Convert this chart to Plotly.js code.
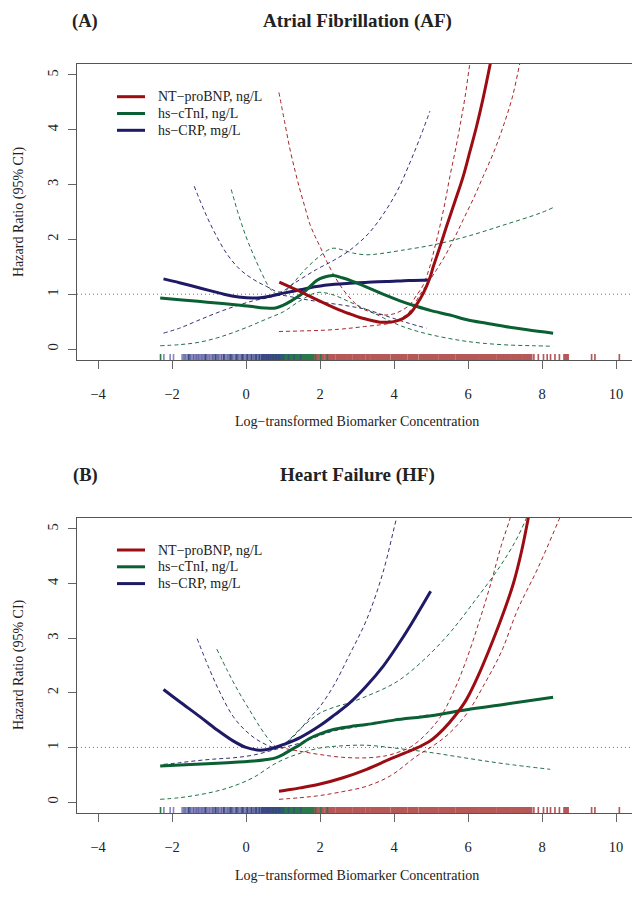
<!DOCTYPE html>
<html><head><meta charset="utf-8">
<script src="https://cdn.plot.ly/plotly-3.0.1.min.js"></script>
<style>html,body{margin:0;padding:0;background:#fff;overflow:hidden}#chart{width:632px;height:901px;}</style>
</head><body><div id="chart"></div>
<script>
// ---------- Panel A: Atrial Fibrillation ----------
const afBnpX  = [0.9, 1.2, 1.46, 1.7, 1.91, 2.2, 2.5, 2.81, 3.1, 3.4, 3.62, 3.85, 4.05, 4.25, 4.45, 4.61, 4.8, 4.97, 5.06, 5.24, 5.42, 5.65, 5.87, 6.05, 6.23, 6.4, 6.6, 6.7];
const afBnpY  = [1.22, 1.13, 1.05, 0.97, 0.9, 0.81, 0.72, 0.64, 0.57, 0.52, 0.49, 0.49, 0.51, 0.56, 0.66, 0.81, 1.03, 1.3, 1.5, 1.86, 2.24, 2.7, 3.15, 3.6, 4.06, 4.55, 5.2, 5.55];
const afBnpUX = [0.89, 1.05, 1.19, 1.33, 1.46, 1.6, 1.73, 1.87, 2.0, 2.18, 2.4, 2.63, 2.85, 3.08, 3.3, 3.53, 3.75, 3.98, 4.2, 4.43, 4.6, 4.79, 4.97, 5.1, 5.24, 5.38, 5.51, 5.65, 5.78, 5.92, 6.05, 6.15];
const afBnpU  = [4.68, 4.12, 3.64, 3.24, 2.9, 2.57, 2.27, 2.05, 1.87, 1.6, 1.32, 1.08, 0.9, 0.76, 0.69, 0.64, 0.62, 0.64, 0.7, 0.81, 0.97, 1.17, 1.51, 1.85, 2.24, 2.68, 3.15, 3.6, 4.06, 4.6, 5.21, 5.6];
const afBnpLX = [0.89, 1.5, 2.0, 2.5, 2.81, 3.2, 3.6, 3.89, 4.1, 4.34, 4.5, 4.7, 4.97, 5.2, 5.42, 5.65, 5.87, 6.15, 6.41, 6.7, 6.95, 7.2, 7.4, 7.5];
const afBnpL  = [0.32, 0.33, 0.34, 0.36, 0.38, 0.41, 0.44, 0.47, 0.53, 0.63, 0.76, 0.99, 1.26, 1.5, 1.75, 2.05, 2.36, 2.75, 3.15, 3.6, 4.06, 4.6, 5.21, 5.5];

const afTnX  = [-2.32, -1.8, -1.3, -0.8, -0.3, 0.11, 0.5, 0.8, 1.01, 1.2, 1.46, 1.7, 1.91, 2.1, 2.36, 2.6, 2.9, 3.26, 3.7, 4.16, 4.6, 5.0, 5.51, 6.0, 6.5, 7.0, 7.6, 8.3];
const afTnY  = [0.93, 0.9, 0.87, 0.84, 0.81, 0.78, 0.75, 0.75, 0.8, 0.87, 0.98, 1.12, 1.25, 1.31, 1.34, 1.3, 1.23, 1.13, 1.0, 0.88, 0.78, 0.7, 0.62, 0.53, 0.47, 0.41, 0.35, 0.29];
const afTnUX = [-0.4, -0.2, 0.0, 0.2, 0.4, 0.65, 0.8, 0.95, 1.1, 1.3, 1.5, 1.73, 2.0, 2.2, 2.36, 2.6, 2.9, 3.26, 3.62, 4.2, 5.06, 6.0, 7.0, 7.95, 8.3];
const afTnU  = [2.91, 2.45, 2.05, 1.72, 1.42, 1.1, 1.01, 1.0, 1.08, 1.22, 1.38, 1.54, 1.7, 1.8, 1.84, 1.81, 1.75, 1.72, 1.74, 1.8, 1.9, 2.06, 2.27, 2.48, 2.58];
const afTnLX = [-2.32, -1.8, -1.3, -0.8, -0.35, 0.11, 0.56, 1.01, 1.46, 1.91, 2.3, 2.8, 3.26, 3.71, 4.16, 4.6, 5.0, 5.51, 5.96, 6.5, 7.2, 7.8, 8.3];
const afTnL  = [0.06, 0.08, 0.12, 0.2, 0.3, 0.42, 0.55, 0.68, 0.88, 1.03, 1.0, 0.86, 0.72, 0.57, 0.43, 0.33, 0.26, 0.19, 0.14, 0.1, 0.07, 0.06, 0.05];

const afCrpX  = [-2.23, -1.8, -1.4, -1.0, -0.6, -0.2, 0.2, 0.6, 1.01, 1.46, 1.91, 2.4, 2.81, 3.3, 3.8, 4.4, 4.97];
const afCrpY  = [1.28, 1.21, 1.14, 1.07, 1.0, 0.95, 0.93, 0.96, 1.02, 1.08, 1.14, 1.18, 1.2, 1.22, 1.23, 1.25, 1.26];
const afCrpUX = [-1.4, -1.1, -0.79, -0.5, -0.16, 0.2, 0.56, 0.92, 1.3, 1.9, 2.4, 2.8, 3.3, 3.7, 4.1, 4.43, 4.7, 4.97];
const afCrpU  = [2.97, 2.48, 2.05, 1.72, 1.45, 1.27, 1.14, 1.04, 1.2, 1.45, 1.63, 1.8, 2.1, 2.45, 2.9, 3.4, 3.85, 4.34];
const afCrpLX = [-2.23, -1.8, -1.3, -0.79, -0.3, 0.2, 0.56, 0.92, 1.46, 2.0, 2.81, 3.26, 3.8, 4.4, 4.88];
const afCrpL  = [0.29, 0.38, 0.52, 0.66, 0.78, 0.88, 0.93, 0.98, 0.92, 0.86, 0.78, 0.72, 0.6, 0.47, 0.38];

// ---------- Panel B: Heart Failure ----------
const hfBnpX  = [0.89, 1.2, 1.46, 2.0, 2.6, 3.26, 3.9, 4.3, 4.65, 5.0, 5.33, 5.65, 5.96, 6.3, 6.68, 6.95, 7.23, 7.45, 7.63, 7.75];
const hfBnpY  = [0.2, 0.23, 0.26, 0.33, 0.44, 0.6, 0.79, 0.9, 1.0, 1.13, 1.33, 1.58, 1.88, 2.35, 2.97, 3.45, 4.01, 4.6, 5.2, 5.6];
const hfBnpUX = [0.89, 1.46, 2.0, 2.6, 3.26, 3.8, 4.1, 4.43, 4.8, 5.1, 5.33, 5.65, 5.96, 6.3, 6.62, 6.9, 7.14, 7.25];
const hfBnpU  = [1.0, 0.93, 0.87, 0.82, 0.81, 0.85, 0.91, 1.0, 1.2, 1.42, 1.64, 2.08, 2.61, 3.3, 4.01, 4.7, 5.2, 5.5];
const hfBnpLX = [0.89, 1.46, 2.0, 2.6, 3.26, 3.9, 4.61, 5.1, 5.51, 6.0, 6.41, 6.9, 7.34, 7.9, 8.44, 8.6];
const hfBnpL  = [0.05, 0.08, 0.12, 0.19, 0.29, 0.48, 0.84, 1.05, 1.27, 1.65, 2.12, 2.75, 3.52, 4.3, 5.14, 5.4];

const hfTnX  = [-2.32, -1.5, -0.5, 0.2, 0.56, 0.8, 1.0, 1.2, 1.46, 1.7, 2.0, 2.36, 2.8, 3.26, 4.0, 5.0, 5.96, 7.0, 8.3];
const hfTnY  = [0.66, 0.69, 0.72, 0.75, 0.78, 0.81, 0.87, 0.95, 1.05, 1.16, 1.25, 1.33, 1.38, 1.42, 1.5, 1.58, 1.69, 1.79, 1.92];
const hfTnUX = [-0.79, -0.5, -0.2, 0.1, 0.4, 0.65, 0.85, 1.1, 1.4, 1.7, 2.0, 2.4, 2.81, 3.3, 3.8, 4.16, 4.8, 5.51, 6.2, 6.86, 7.3, 7.58, 7.7];
const hfTnU  = [2.8, 2.4, 2.02, 1.68, 1.35, 1.12, 1.0, 1.1, 1.3, 1.48, 1.63, 1.74, 1.82, 1.95, 2.1, 2.24, 2.6, 3.1, 3.7, 4.31, 4.8, 5.2, 5.4];
const hfTnLX = [-2.32, -1.8, -1.3, -0.8, -0.35, 0.2, 0.83, 1.4, 2.0, 2.6, 3.26, 4.0, 5.06, 6.0, 7.0, 8.22];
const hfTnL  = [0.05, 0.08, 0.13, 0.2, 0.29, 0.45, 0.72, 0.88, 0.99, 1.03, 1.04, 0.99, 0.9, 0.8, 0.7, 0.6];

const hfCrpX  = [-2.23, -1.8, -1.24, -0.8, -0.35, 0.0, 0.38, 0.7, 1.0, 1.46, 2.0, 2.4, 2.81, 3.26, 3.71, 4.1, 4.43, 4.99];
const hfCrpY  = [2.06, 1.84, 1.56, 1.33, 1.12, 1.0, 0.95, 0.98, 1.05, 1.18, 1.4, 1.6, 1.82, 2.13, 2.49, 2.87, 3.22, 3.86];
const hfCrpUX = [-1.32, -1.0, -0.7, -0.35, 0.0, 0.4, 0.83, 1.2, 1.46, 1.8, 2.0, 2.36, 2.8, 3.26, 3.7, 4.07, 4.2];
const hfCrpU  = [2.99, 2.45, 2.0, 1.57, 1.3, 1.1, 1.0, 1.15, 1.33, 1.6, 1.75, 2.12, 2.7, 3.34, 4.2, 5.2, 5.5];
const hfCrpLX = [-2.23, -1.8, -1.3, -0.8, -0.35, 0.2, 0.83, 1.46, 2.0, 2.36, 3.0, 3.6, 4.16, 4.97];
const hfCrpL  = [0.69, 0.72, 0.76, 0.79, 0.81, 0.86, 0.97, 1.08, 1.22, 1.3, 1.38, 1.45, 1.51, 1.6];

// ---------- Rug (observed log concentrations) ----------
const rugBnp = [0.89, 0.93, 1.01, 1.07, 1.12, 1.2, 1.26, 1.33, 1.38, 1.47, 1.52, 1.6, 1.64, 1.71, 1.79, 1.83, 1.9, 1.97, 2.05, 2.09, 2.17, 2.24, 2.3, 2.36, 2.45, 2.5, 2.57, 2.66, 2.71, 2.78, 2.84, 2.93, 2.98, 3.05, 3.13, 3.18, 3.26, 3.31, 3.4, 3.46, 3.52, 3.6, 3.67, 3.72, 3.8, 3.86, 3.95, 4.0, 4.07, 4.15, 4.21, 4.28, 4.33, 4.42, 4.48, 4.55, 4.61, 4.7, 4.75, 4.82, 4.9, 4.96, 5.03, 5.1, 5.16, 5.24, 5.29, 5.37, 5.45, 5.5, 5.58, 5.63, 5.72, 5.78, 5.85, 5.91, 5.99, 6.05, 6.12, 6.2, 6.25, 6.33, 6.4, 6.46, 6.52, 6.6, 6.67, 6.73, 6.81, 6.86, 6.94, 7.0, 7.06, 7.13, 7.2, 7.24, 7.31, 7.38, 7.43, 7.5, 7.55, 7.6, 7.68, 7.78, 7.9, 8.04, 8.14, 8.23, 8.35, 8.47, 8.62, 8.68, 9.34, 9.43, 10.09];
const rugTn  = [-2.31, -1.55, -1.1, -0.82, -0.6, -0.41, -0.25, -0.1, 0.04, 0.15, 0.27, 0.36, 0.47, 0.55, 0.64, 0.72, 0.8, 0.86, 0.93, 0.98, 1.04, 1.09, 1.13, 1.19, 1.23, 1.28, 1.32, 1.37, 1.41, 1.46, 1.5, 1.55, 1.59, 1.64, 1.7, 1.78, 1.88, 2.02, 2.2];
const rugCrp = [-2.22, -2.05, -1.96, -1.71, -1.66, -1.63, -1.57, -1.52, -1.49, -1.44, -1.4, -1.35, -1.31, -1.27, -1.22, -1.18, -1.15, -1.1, -1.06, -1.01, -0.98, -0.93, -0.89, -0.85, -0.8, -0.76, -0.73, -0.68, -0.64, -0.59, -0.56, -0.51, -0.47, -0.43, -0.38, -0.35, -0.3, -0.26, -0.21, -0.18, -0.13, -0.09, -0.05, 0.0, 0.04, 0.09, 0.12, 0.17, 0.22, 0.26, 0.3, 0.35, 0.41, 0.46, 0.52, 0.58, 0.63, 0.7, 0.77, 0.85, 0.93, 1.02, 1.15, 1.3, 1.48];

const names = ['NT\u2212proBNP, ng/L', 'hs\u2212cTnI, ng/L', 'hs\u2212CRP, mg/L'];
const xTicks = [-4, -2, 0, 2, 4, 6, 8, 10];
const yTicks = [0, 1, 2, 3, 4, 5];

const RED = '#9C0D13', GREEN = '#0A5F33', NAVY = '#1E1A66';
const COLORS = [RED, GREEN, NAVY];
const FONT = 'Liberation Serif, Times New Roman, serif';

function ci(x, y, color, xa, ya) {
  return {x, y, xaxis: xa, yaxis: ya, mode: 'lines', type: 'scatter', showlegend: false, hoverinfo: 'skip',
    line: {color, width: 1, dash: '4px,3px', shape: 'spline', smoothing: 1}, opacity: 0.9};
}
function main(x, y, color, xa, ya, name) {
  return {x, y, xaxis: xa, yaxis: ya, mode: 'lines', type: 'scatter', name, showlegend: false,
    line: {color, width: 3, shape: 'spline', smoothing: 1}};
}
// rug: one thin bar per observation, from the bottom of the axis up a few pixels
const RUG_BASE = -0.2, RUG_H = 0.11;
function rug(vals, color, xa, ya) {
  const widths = vals.map((v, i) => {
    const d = Math.min(i > 0 ? v - vals[i - 1] : 9, i < vals.length - 1 ? vals[i + 1] - v : 9);
    return d < 0.085 ? d * 1.6 : 0.045;
  });
  return {type: 'bar', x: vals, y: vals.map(() => RUG_H), base: RUG_BASE, width: widths, xaxis: xa, yaxis: ya,
    showlegend: false, hoverinfo: 'skip', marker: {color, line: {width: 0}}};
}

function panel(xa, ya, d) {
  return [
    rug(rugBnp, 'rgb(182,88,88)', xa, ya),
    rug(rugTn, 'rgb(40,122,75)', xa, ya),
    rug(rugCrp, 'rgba(60,60,145,0.6)', xa, ya),
    ci(d.bUX, d.bU, RED, xa, ya), ci(d.bLX, d.bL, RED, xa, ya),
    ci(d.tUX, d.tU, GREEN, xa, ya), ci(d.tLX, d.tL, GREEN, xa, ya),
    ci(d.cUX, d.cU, NAVY, xa, ya), ci(d.cLX, d.cL, NAVY, xa, ya),
    main(d.cX, d.cY, NAVY, xa, ya, names[2]),
    main(d.tX, d.tY, GREEN, xa, ya, names[1]),
    main(d.bX, d.bY, RED, xa, ya, names[0])
  ];
}

const data = [].concat(
  panel('x', 'y', {bX: afBnpX, bY: afBnpY, bUX: afBnpUX, bU: afBnpU, bLX: afBnpLX, bL: afBnpL,
    tX: afTnX, tY: afTnY, tUX: afTnUX, tU: afTnU, tLX: afTnLX, tL: afTnL,
    cX: afCrpX, cY: afCrpY, cUX: afCrpUX, cU: afCrpU, cLX: afCrpLX, cL: afCrpL}),
  panel('x2', 'y2', {bX: hfBnpX, bY: hfBnpY, bUX: hfBnpUX, bU: hfBnpU, bLX: hfBnpLX, bL: hfBnpL,
    tX: hfTnX, tY: hfTnY, tUX: hfTnUX, tU: hfTnU, tLX: hfTnLX, tL: hfTnL,
    cX: hfCrpX, cY: hfCrpY, cUX: hfCrpUX, cU: hfCrpU, cLX: hfCrpLX, cL: hfCrpL})
);

const W = 632, H = 901;
const px = v => v / W, py = v => 1 - v / H;

function xax(anchor) {
  return {domain: [px(77), 1], range: [-4.568, 10.432], tickvals: xTicks, ticktext: xTicks.map(v => v < 0 ? '\u2212' + Math.abs(v) : String(v)),
    ticks: 'outside', ticklen: 8, tickwidth: 1, tickcolor: '#666', showline: true, linecolor: '#555', linewidth: 1.2, mirror: true,
    showgrid: false, zeroline: false, anchor, ticklabelstandoff: 12,
    tickfont: {family: FONT, size: 14.5, color: '#222'}, fixedrange: true};
}
function yax(anchor, dom) {
  return {domain: dom, range: [-0.2, 5.2], tickvals: yTicks, ticks: 'outside', ticklen: 8, tickwidth: 1, tickcolor: '#666',
    showline: true, linecolor: '#555', linewidth: 1.2, mirror: false, showgrid: false, zeroline: false, anchor,
    tickangle: -90, ticklabelstandoff: 4, tickfont: {family: FONT, size: 14.5, color: '#222'}, fixedrange: true};
}

function refLine(xr, yr) {
  return {type: 'line', xref: xr + ' domain', yref: yr, x0: 0, x1: 1, y0: 1, y1: 1, layer: 'below',
    line: {color: '#777', width: 1, dash: '1px,3px'}};
}
function ann(text, x, y, size, bold, extra) {
  return Object.assign({text: bold ? '<b>' + text + '</b>' : text, xref: 'paper', yref: 'paper', x: px(x), y: py(y),
    xanchor: 'center', yanchor: 'middle', showarrow: false, font: {family: FONT, size, color: '#222'}}, extra || {});
}

// legend keys (drawn as key lines + text labels)
const legendTops = [96.7, 550];
const legendStep = 16.8;
const legendShapes = [], legendAnns = [];
legendTops.forEach(top => {
  names.forEach((nm, i) => {
    const yy = top + i * legendStep;
    legendShapes.push({type: 'line', xref: 'paper', yref: 'paper', x0: px(117), x1: px(145), y0: py(yy), y1: py(yy),
      line: {color: COLORS[i], width: 3}});
    legendAnns.push({text: nm, xref: 'paper', yref: 'paper', x: px(156), y: py(yy), xanchor: 'left', yanchor: 'middle',
      showarrow: false, font: {family: FONT, size: 14, color: '#222'}});
  });
});

const layout = {
  width: W, height: H, margin: {l: 0, r: 0, t: 0, b: 0}, paper_bgcolor: '#fff', plot_bgcolor: '#fff',
  barmode: 'overlay',
  xaxis: xax('y'), yaxis: yax('x', [py(360), py(64)]),
  xaxis2: xax('y2'), yaxis2: yax('x2', [py(813), py(518)]),
  shapes: [refLine('x', 'y'), refLine('x2', 'y2')].concat(legendShapes),
  annotations: [
    ann('(A)', 85, 21, 18.5, true), ann('Atrial Fibrillation (AF)', 357, 21, 19, true),
    ann('Hazard Ratio (95% CI)', 19, 212, 14, false, {textangle: -90}),
    ann('Log\u2212transformed Biomarker Concentration', 357, 421, 14, false),
    ann('(B)', 85, 475, 18.5, true), ann('Heart Failure (HF)', 357, 475, 19, true),
    ann('Hazard Ratio (95% CI)', 19, 665, 14, false, {textangle: -90}),
    ann('Log\u2212transformed Biomarker Concentration', 357, 875, 14, false)
  ].concat(legendAnns),
  showlegend: false
};

Plotly.newPlot('chart', data, layout, {staticPlot: true, displayModeBar: false});
</script></body></html>
